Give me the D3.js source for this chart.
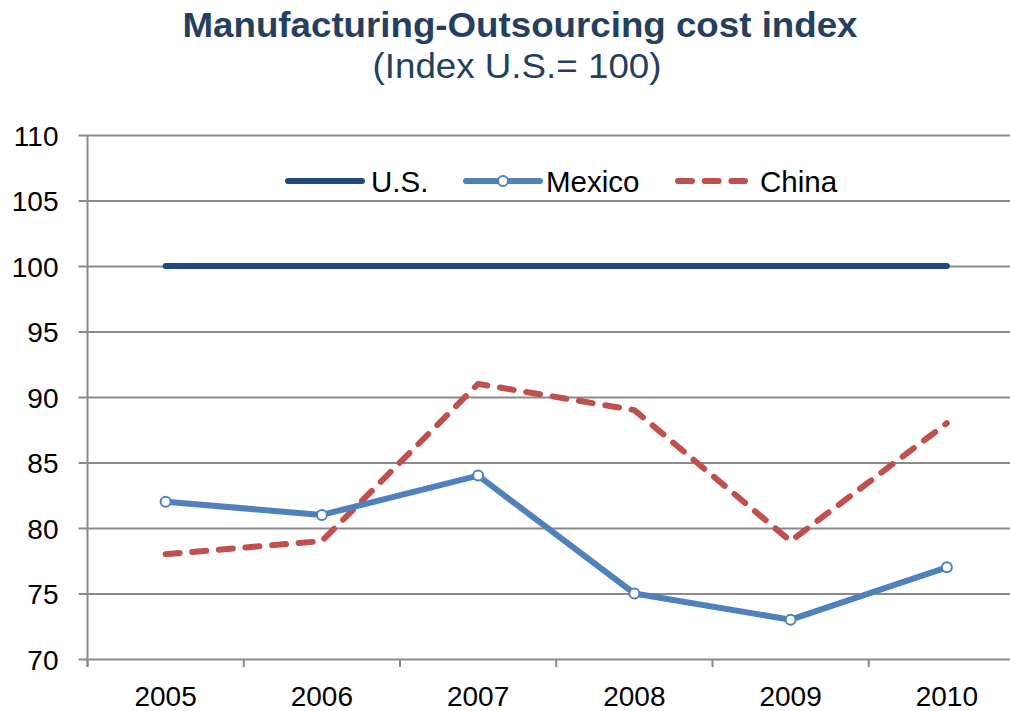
<!DOCTYPE html>
<html>
<head>
<meta charset="utf-8">
<script src="https://cdn.jsdelivr.net/npm/d3@7"></script>
<style>
  html, body { margin: 0; padding: 0; background: #fff; }
  svg { display: block; font-family: "Liberation Sans", Arial, sans-serif; }
</style>
</head>
<body>
<svg id="chart" width="1010" height="711"></svg>
<script>
// Cost index by year, U.S. = 100
const years = ["2005", "2006", "2007", "2008", "2009", "2010"];
const usValues = [100, 100, 100, 100, 100, 100];
const mexicoValues = [82, 81, 84, 75, 73, 77];
const chinaValues = [78, 79, 91, 89, 79, 88];
const yTicks = [70, 75, 80, 85, 90, 95, 100, 105, 110];
const seriesNames = ["U.S.", "Mexico", "China"];

const svg = d3.select("#chart");
const plot = { left: 87.5, right: 1025, top: 135, bottom: 659 };

const x = d3.scaleBand().domain(years).range([plot.left, plot.right]).padding(0);
const y = d3.scaleLinear().domain([70, 110]).range([plot.bottom, plot.top]);
const cx = d => x(d) + x.bandwidth() / 2;

const gridColor = "#8a8a8a";
const chinaDash = "14,12.7";

// Title
svg.append("text")
  .attr("x", 520).attr("y", 37)
  .attr("text-anchor", "middle")
  .attr("font-size", 35).attr("font-weight", "bold")
  .attr("fill", "#243f60")
  .attr("textLength", 675).attr("lengthAdjust", "spacingAndGlyphs")
  .text("Manufacturing-Outsourcing cost index");
svg.append("text")
  .attr("x", 517).attr("y", 78)
  .attr("text-anchor", "middle")
  .attr("font-size", 35)
  .attr("fill", "#243f60")
  .attr("textLength", 289).attr("lengthAdjust", "spacingAndGlyphs")
  .text("(Index U.S.= 100)");

// Horizontal gridlines with left tick stubs
const yAxis = d3.axisLeft(y).tickValues(yTicks)
  .tickSize(-(plot.right - plot.left)).tickSizeOuter(0).tickPadding(20)
  .tickFormat(d3.format("d"));
const gy = svg.append("g").attr("transform", `translate(${plot.left},0)`).call(yAxis);
gy.select(".domain").remove();
gy.selectAll(".tick line")
  .attr("x1", -9)
  .attr("stroke", gridColor).attr("stroke-width", 2);
gy.selectAll(".tick text")
  .attr("font-size", 28).attr("fill", "#000")
  .attr("font-family", "Liberation Sans, Arial, sans-serif")
  .attr("x", -29).attr("dy", "0.36em");

// Vertical axis line
svg.append("line")
  .attr("x1", plot.left).attr("x2", plot.left)
  .attr("y1", plot.top).attr("y2", plot.bottom + 8)
  .attr("stroke", gridColor).attr("stroke-width", 2);

// Category axis: ticks at band boundaries, labels centred in bands
const gx = svg.append("g").attr("transform", `translate(0,${plot.bottom})`);
const boundaries = years.map(d => x(d)).concat([x(years[years.length - 1]) + x.bandwidth()]);
gx.selectAll("line.tick").data(boundaries).join("line")
  .attr("class", "tick")
  .attr("x1", d => d).attr("x2", d => d)
  .attr("y1", 0).attr("y2", 8)
  .attr("stroke", gridColor).attr("stroke-width", 2);
gx.selectAll("text").data(years).join("text")
  .attr("x", d => cx(d)).attr("y", 47)
  .attr("text-anchor", "middle")
  .attr("font-size", 28).attr("fill", "#000")
  .text(d => d);

const line = d3.line().x((d, i) => cx(years[i])).y(d => y(d));

// U.S.
svg.append("path").datum(usValues)
  .attr("d", line).attr("fill", "none")
  .attr("stroke", "#1f497d").attr("stroke-width", 6)
  .attr("stroke-linecap", "round").attr("stroke-linejoin", "round");

// China (dashed)
svg.append("path").datum(chinaValues)
  .attr("d", line).attr("fill", "none")
  .attr("stroke", "#c0504d").attr("stroke-width", 6)
  .attr("stroke-dasharray", chinaDash)
  .attr("stroke-linecap", "round").attr("stroke-linejoin", "round");

// Mexico with markers
svg.append("path").datum(mexicoValues)
  .attr("d", line).attr("fill", "none")
  .attr("stroke", "#4f81bd").attr("stroke-width", 6)
  .attr("stroke-linecap", "round").attr("stroke-linejoin", "round");
svg.selectAll("circle.mx").data(mexicoValues).join("circle")
  .attr("class", "mx")
  .attr("cx", (d, i) => cx(years[i])).attr("cy", d => y(d))
  .attr("r", 5).attr("fill", "#fff")
  .attr("stroke", "#4f81bd").attr("stroke-width", 2);

// Legend
const legendY = 181;
const legend = [
  { name: seriesNames[0], x1: 288, x2: 362, tx: 371, color: "#1f497d", dash: null, marker: false },
  { name: seriesNames[1], x1: 466, x2: 540, tx: 546, color: "#4f81bd", dash: null, marker: true },
  { name: seriesNames[2], x1: 678, x2: 745, tx: 760, color: "#c0504d", dash: chinaDash, marker: false }
];
const lg = svg.append("g");
legend.forEach(l => {
  lg.append("line")
    .attr("x1", l.x1).attr("x2", l.x2)
    .attr("y1", legendY).attr("y2", legendY)
    .attr("stroke", l.color).attr("stroke-width", 6)
    .attr("stroke-linecap", "round")
    .attr("stroke-dasharray", l.dash);
  if (l.marker) {
    lg.append("circle")
      .attr("cx", (l.x1 + l.x2) / 2).attr("cy", legendY)
      .attr("r", 5).attr("fill", "#fff")
      .attr("stroke", l.color).attr("stroke-width", 2);
  }
  lg.append("text")
    .attr("x", l.tx).attr("y", legendY + 11)
    .attr("font-size", 29.5).attr("fill", "#000")
    .text(l.name);
});
</script>
</body>
</html>
